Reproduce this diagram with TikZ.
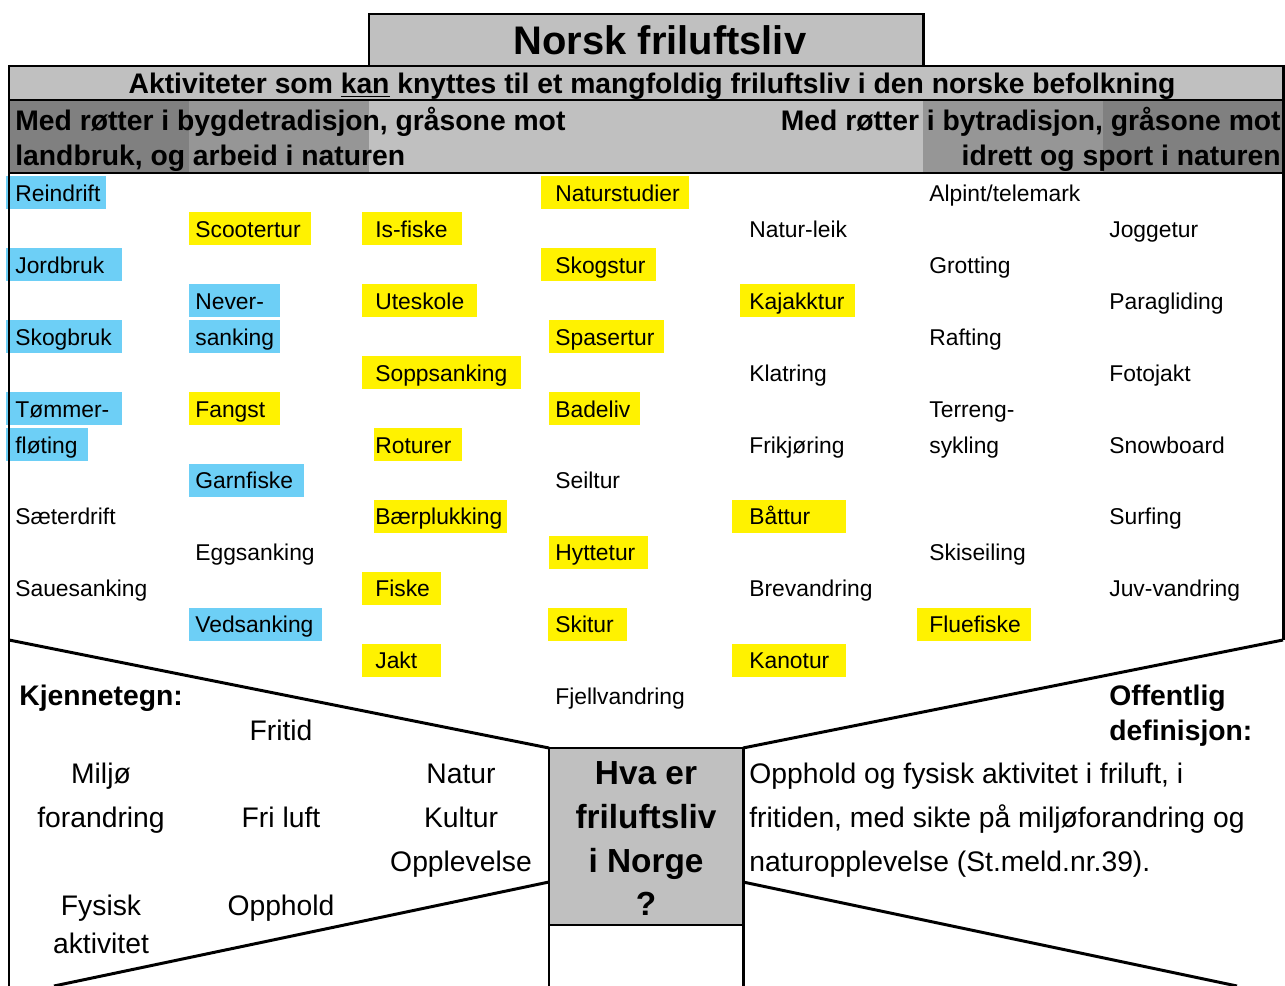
\documentclass[tikz,border=0pt]{standalone}
\usepackage{fontspec}
\setmainfont{Liberation Sans}
\usepackage{tikz}
\usetikzlibrary{positioning}
\definecolor{band}{HTML}{C0C0C0}
\definecolor{bandmid}{HTML}{969696}
\definecolor{banddark}{HTML}{808080}
\definecolor{bygdblue}{HTML}{6DCFF6}
\definecolor{markyellow}{HTML}{FFF200}
\tikzset{
  frame/.style={draw=black,line width=1.7pt},
  titletxt/.style={anchor=base,inner sep=0pt,
                   font=\fontsize{22.7}{27}\selectfont\bfseries},
  headtxt/.style={inner sep=0pt,font=\fontsize{16.1}{19}\selectfont\bfseries},
  asktxt/.style={anchor=base,inner sep=0pt,
                 font=\fontsize{19}{23}\selectfont\bfseries},
  act/.style={anchor=base west,inner sep=0pt,font=\fontsize{13}{15}\selectfont},
  kword/.style={anchor=base,inner sep=0pt,font=\fontsize{16.1}{19}\selectfont},
  deftxt/.style={anchor=base west,inner sep=0pt,
                 font=\fontsize{16.1}{19}\selectfont}
}

\begin{document}
\begin{tikzpicture}[x=0.02cm,y=-0.02cm]
    \useasboundingbox (0,0) rectangle (1285,986);
    % heading bands
    \fill[band] (9,66) rectangle (1283,100);
    \fill[banddark] (9,100) rectangle (189,173);
    \fill[bandmid] (189,100) rectangle (369,173);
    \fill[band] (369,100) rectangle (923,173);
    \fill[bandmid] (923,100) rectangle (1103,173);
    \fill[banddark] (1103,100) rectangle (1283,173);
    \draw[frame,fill=band] (369,14) rectangle (923,66);
    \node[titletxt] (title) at (660,55) {Norsk friluftsliv};
    \node[headtxt,anchor=base] (subtitle) at (652,94)
      {Aktiviteter som \underline{kan} knyttes til et mangfoldig friluftsliv i den norske befolkning};
    \node[headtxt,anchor=base west] (bygd1) at (15,131)
      {Med røtter i bygdetradisjon, gråsone mot};
    \node[headtxt,anchor=base west] (bygd2) at (15,166)
      {landbruk, og arbeid i naturen};
    \node[headtxt,anchor=base east] (by1) at (1281,131)
      {Med røtter i bytradisjon, gråsone mot};
    \node[headtxt,anchor=base east] (by2) at (1281,166)
      {idrett og sport i naturen};

    % marked activities
    \foreach \xa/\xb/\r in {6/106/0,6/122/2,6/122/4,6/122/6,6/88/7,
        189/280/3,189/280/4,189/304/8,189/322/12}{
      \fill[bygdblue] (\xa,{176.5+35.93*\r}) rectangle (\xb,{209.5+35.93*\r});
    }
    \foreach \xa/\xb/\r in {189/311/1,189/280/6,362/462/1,362/477/3,
        362/521/5,374/462/7,374/507/9,362/441/11,362/441/13,
        541/689/0,541/656/2,549/664/4,549/640/6,549/648/10,548/627/12,
        740/855/3,732/846/9,732/846/13,917/1031/12}{
      \fill[markyellow] (\xa,{176.5+35.93*\r}) rectangle (\xb,{209.5+35.93*\r});
    }

    % activities
    \foreach \cx/\r/\txt in {15/0/Reindrift,15/2/Jordbruk,15/4/Skogbruk,
        15/6/Tømmer-,15/7/fløting,15/9/Sæterdrift,15/11/Sauesanking,
        195/1/Scootertur,195/3/Never-,195/4/sanking,195/6/Fangst,
        195/8/Garnfiske,195/10/Eggsanking,195/12/Vedsanking,
        375/1/Is-fiske,375/3/Uteskole,375/5/Soppsanking,375/7/Roturer,
        375/9/Bærplukking,375/11/Fiske,375/13/Jakt,
        555/0/Naturstudier,555/2/Skogstur,555/4/Spasertur,555/6/Badeliv,
        555/8/Seiltur,555/10/Hyttetur,555/12/Skitur,555/14/Fjellvandring,
        749/1/Natur-leik,749/3/Kajakktur,749/5/Klatring,749/7/Frikjøring,
        749/9/Båttur,749/11/Brevandring,749/13/Kanotur,
        929/0/{Alpint/telemark},929/2/Grotting,929/4/Rafting,
        929/6/Terreng-,929/7/sykling,929/10/Skiseiling,929/12/Fluefiske,
        1109/1/Joggetur,1109/3/Paragliding,1109/5/Fotojakt,
        1109/7/Snowboard,1109/9/Surfing,1109/11/Juv-vandring}{
      \node[act] (act-\cx-\r) at (\cx,{201.5+35.93*\r}) {\txt};
    }

    % frame
    \draw[frame] (9,66) -- (1283,66);
    \draw[frame] (9,100) -- (1283,100);
    \draw[frame] (9,173) -- (1283,173);
    \draw[frame] (9,65) -- (9,986);
    \draw[frame] (1283,65) -- (1283,640);
    \draw[frame] (9,640) -- (549,748);
    \draw[frame] (1283,640) -- (743,748);
    \draw[frame] (549,882) -- (54,986);
    \draw[frame] (743,882) -- (1237,986);
    \draw[frame,fill=band] (549,748) rectangle (743,925);
    \draw[frame] (549,925) -- (549,986);
    \draw[frame] (743,925) -- (743,986);

    % question
    \foreach \y/\txt in {784/Hva er,828/friluftsliv,872/i Norge,915/?}{
      \node[asktxt] (ask-\y) at (646,\y) {\txt};
    }

    % kjennetegn
    \node[headtxt,anchor=base west] (kjenne) at (19,705) {Kjennetegn:};
    \node[kword] (fritid) at (281,740) {Fritid};
    \node[kword] (miljo) at (101,783) {Miljø};
    \node[kword] (forandring) at (101,827) {forandring};
    \node[kword] (friluft) at (281,827) {Fri luft};
    \node[kword] (natur) at (461,783) {Natur};
    \node[kword] (kultur) at (461,827) {Kultur};
    \node[kword] (opplevelse) at (461,871) {Opplevelse};
    \node[kword] (fysisk) at (101,915) {Fysisk};
    \node[kword] (aktivitet) at (101,953) {aktivitet};
    \node[kword] (opphold) at (281,915) {Opphold};

    % definisjon
    \node[headtxt,anchor=base west] (offentlig) at (1109,705) {Offentlig};
    \node[headtxt,anchor=base west] (definisjon) at (1109,740) {definisjon:};
    \node[deftxt] (def1) at (749,783) {Opphold og fysisk aktivitet i friluft, i};
    \node[deftxt] (def2) at (749,827) {fritiden, med sikte på miljøforandring og};
    \node[deftxt] (def3) at (749,871) {naturopplevelse (St.meld.nr.39).};
\end{tikzpicture}
\end{document}
